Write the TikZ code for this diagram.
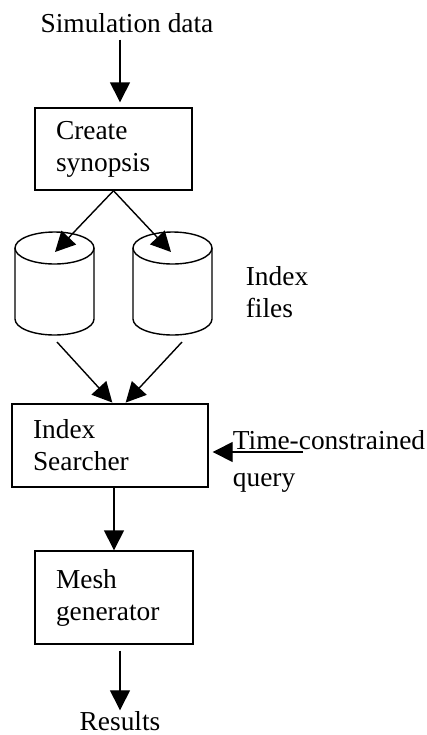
\documentclass[tikz,border=0pt]{standalone}
\usepackage{fontspec}
\setmainfont{Liberation Serif}
\usepackage{tikz}
\usetikzlibrary{arrows.meta}

\begin{document}
\begin{tikzpicture}[x=0.5pt, y=-0.5pt, line width=0.7pt, >={Triangle[length=10pt,width=10pt]},
		font=\fontsize{13.7}{16}\selectfont,
		box/.style={draw, inner xsep=10.5pt, align=left}]
				\useasboundingbox (0,0) rectangle (427,735);
				\node (sim) [anchor=base] at (127,32) {Simulation data};
				\node (create) [box, text width=57.5pt, minimum height=41pt] at (113.5,149) {Create\\synopsis};
				% index files
				\foreach \cx in {54.5, 172.5} {
					\draw (\cx,248) ellipse [x radius=39.5, y radius=16];
					\draw (\cx-39.5,248) -- (\cx-39.5,319) arc[start angle=180, end angle=0, x radius=39.5, y radius=16] -- (\cx+39.5,248);
				}
				\coordinate (inL) at (55,252);
				\coordinate (inR) at (171,252);
				\coordinate (outL) at (57,342);
				\coordinate (outR) at (182,342);
				\node (idx) [anchor=west, align=left] at (238.5,292) {Index\\files};
				\node (search) [box, text width=77pt, minimum height=41.5pt] at (110,445.5) {Index\\Searcher};
				\node (query) [anchor=west, align=left] at (225.5,461) {Time-constrained\\[2.5pt]query};
				\coordinate (q) at (303,452);
				\node (mesh) [box, text width=58pt, minimum height=46.5pt] at (114,597.5) {Mesh\\generator};
				\node (res) [anchor=base, inner sep=0pt] at (120,730) {Results};
				\draw[->, shorten >=2.5pt] ([xshift=-3.5pt]sim.south) -- ([xshift=3.25pt]create.north);
				\draw[->] (create.south) -- (inL);
				\draw[->] (create.south) -- (inR);
				\draw[->, shorten >=0.5pt] (outL) -- ([xshift=1.5pt]search.north);
				\draw[->, shorten >=0.5pt] (outR) -- ([xshift=7.5pt]search.north);
				\draw[->, shorten >=2pt] (q) -- (search.east |- q);
				\draw[->] ([xshift=2pt]search.south) -- (mesh.north);
				\draw[->, shorten <=3pt] ([xshift=3pt]mesh.south) -- (res.north);
			\end{tikzpicture}
\end{document}
